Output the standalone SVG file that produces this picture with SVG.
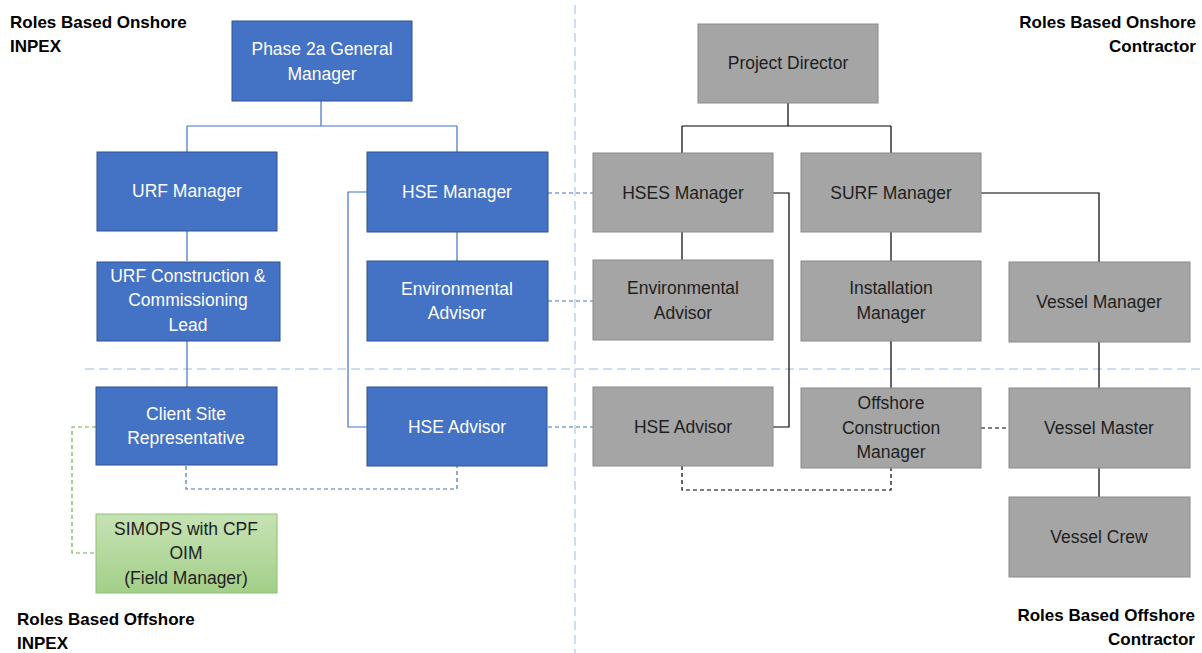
<svg xmlns="http://www.w3.org/2000/svg" width="1202" height="653" viewBox="0 0 1202 653">
  <defs>
    <linearGradient id="greenFill" x1="0" y1="0" x2="0" y2="1">
      <stop offset="0" stop-color="#c6e2b5"/>
      <stop offset="1" stop-color="#a3cf88"/>
    </linearGradient>
    <style>
      .blue { fill: #4472c4; stroke: #2f528f; stroke-width: 1; }
      .grey { fill: #a5a5a5; stroke: #8a8a8a; stroke-width: 1; }
      .green { fill: url(#greenFill); stroke: #8fbf73; stroke-width: 1; }
      .tw { font-family: "Liberation Sans", Arial, sans-serif; font-size: 17.5px; fill: #ffffff; text-anchor: middle; }
      .tk { font-family: "Liberation Sans", Arial, sans-serif; font-size: 17.5px; fill: #1e1e1e; text-anchor: middle; }
      .corner { font-family: "Liberation Sans", Arial, sans-serif; font-size: 17px; font-weight: bold; fill: #000000; }
      .divider { fill: none; stroke: #d0dcf2; stroke-width: 2; stroke-dasharray: 9 5; }
      .lb { fill: none; stroke: #4472c4; stroke-width: 1.2; }
      .lbd { fill: none; stroke: #4472c4; stroke-width: 1.2; stroke-dasharray: 4 3; }
      .lgd { fill: none; stroke: #70ad47; stroke-width: 1.2; stroke-dasharray: 4 3; }
      .lk { fill: none; stroke: #000000; stroke-width: 1.2; }
      .lkd { fill: none; stroke: #000000; stroke-width: 1.2; stroke-dasharray: 4 3; }
    </style>
  </defs>

  <rect width="1202" height="653" fill="#ffffff"/>

  <!-- quadrant dividers -->
  <g id="dividers">
    <line class="divider" x1="575" y1="5" x2="575" y2="653"/>
    <line class="divider" x1="85" y1="369" x2="1202" y2="369"/>
  </g>

  <!-- quadrant labels -->
  <g id="labels">
    <text class="corner" x="10" y="28">Roles Based Onshore</text>
    <text class="corner" x="10" y="52">INPEX</text>
    <text class="corner" x="1196" y="28" text-anchor="end">Roles Based Onshore</text>
    <text class="corner" x="1196" y="52" text-anchor="end">Contractor</text>
    <text class="corner" x="17" y="625">Roles Based Offshore</text>
    <text class="corner" x="17" y="649">INPEX</text>
    <text class="corner" x="1195" y="621" text-anchor="end">Roles Based Offshore</text>
    <text class="corner" x="1195" y="645" text-anchor="end">Contractor</text>
  </g>

  <!-- connectors -->
  <g id="connectors">
    <!-- INPEX reporting lines -->
    <path class="lb" d="M321 101 V126 M187 126 H457 M187 126 V152 M457 126 V152"/>
    <path class="lb" d="M187 231 V261"/>
    <path class="lb" d="M187 341 V387"/>
    <path class="lb" d="M457 232 V261"/>
    <path class="lb" d="M367 192 H348 V427 H367"/>
    <!-- INPEX dotted links -->
    <path class="lbd" d="M186 466 V489 H457 V466"/>
    <path class="lgd" d="M96 427 H72 V553 H96"/>
    <!-- INPEX to contractor interfaces -->
    <path class="lbd" d="M548 193 H593"/>
    <path class="lbd" d="M548 301 H593"/>
    <path class="lbd" d="M548 427 H593"/>
    <!-- contractor reporting lines -->
    <path class="lk" d="M788 103 V126 M682 126 H891 M682 126 V153 M891 126 V153"/>
    <path class="lk" d="M682 232 V260"/>
    <path class="lk" d="M773 193 H789 V427 H773"/>
    <path class="lk" d="M891 232 V261"/>
    <path class="lk" d="M981 193 H1099 V262"/>
    <path class="lk" d="M891 341 V388"/>
    <path class="lk" d="M1099 342 V388"/>
    <path class="lk" d="M1099 468 V497"/>
    <!-- contractor dotted links -->
    <path class="lkd" d="M981 428 H1009"/>
    <path class="lkd" d="M682 466 V490 H891 V468"/>
  </g>

  <!-- INPEX onshore -->
  <g id="phase2a-gm">
    <rect class="blue" x="232" y="21" width="180" height="80"/>
    <text class="tw" x="322" y="55">Phase 2a General</text>
    <text class="tw" x="322" y="80">Manager</text>
  </g>
  <g id="urf-manager">
    <rect class="blue" x="97" y="152" width="180" height="79"/>
    <text class="tw" x="187" y="197">URF Manager</text>
  </g>
  <g id="hse-manager">
    <rect class="blue" x="367" y="152" width="181" height="80"/>
    <text class="tw" x="457" y="198">HSE Manager</text>
  </g>
  <g id="urf-cc-lead">
    <rect class="blue" x="97" y="262" width="183" height="79"/>
    <text class="tw" x="188" y="282">URF Construction &amp;</text>
    <text class="tw" x="188" y="306">Commissioning</text>
    <text class="tw" x="188" y="331">Lead</text>
  </g>
  <g id="env-advisor-inpex">
    <rect class="blue" x="367" y="261" width="181" height="80"/>
    <text class="tw" x="457" y="295">Environmental</text>
    <text class="tw" x="457" y="319">Advisor</text>
  </g>

  <!-- INPEX offshore -->
  <g id="client-site-rep">
    <rect class="blue" x="96" y="387" width="181" height="78"/>
    <text class="tw" x="186" y="420">Client Site</text>
    <text class="tw" x="186" y="444">Representative</text>
  </g>
  <g id="hse-advisor-inpex">
    <rect class="blue" x="367" y="387" width="180" height="79"/>
    <text class="tw" x="457" y="433">HSE Advisor</text>
  </g>
  <g id="simops">
    <rect class="green" x="96" y="514" width="181" height="79"/>
    <text class="tk" x="186" y="535">SIMOPS with CPF</text>
    <text class="tk" x="186" y="559">OIM</text>
    <text class="tk" x="186" y="584">(Field Manager)</text>
  </g>

  <!-- contractor onshore -->
  <g id="project-director">
    <rect class="grey" x="698" y="24" width="180" height="79"/>
    <text class="tk" x="788" y="69">Project Director</text>
  </g>
  <g id="hses-manager">
    <rect class="grey" x="593" y="153" width="180" height="79"/>
    <text class="tk" x="683" y="199">HSES Manager</text>
  </g>
  <g id="surf-manager">
    <rect class="grey" x="801" y="153" width="180" height="79"/>
    <text class="tk" x="891" y="199">SURF Manager</text>
  </g>
  <g id="env-advisor-contractor">
    <rect class="grey" x="593" y="260" width="180" height="80"/>
    <text class="tk" x="683" y="294">Environmental</text>
    <text class="tk" x="683" y="319">Advisor</text>
  </g>
  <g id="installation-manager">
    <rect class="grey" x="801" y="261" width="180" height="80"/>
    <text class="tk" x="891" y="294">Installation</text>
    <text class="tk" x="891" y="319">Manager</text>
  </g>
  <g id="vessel-manager">
    <rect class="grey" x="1009" y="262" width="181" height="80"/>
    <text class="tk" x="1099" y="308">Vessel Manager</text>
  </g>

  <!-- contractor offshore -->
  <g id="hse-advisor-contractor">
    <rect class="grey" x="593" y="387" width="180" height="79"/>
    <text class="tk" x="683" y="433">HSE Advisor</text>
  </g>
  <g id="offshore-construction-manager">
    <rect class="grey" x="801" y="388" width="180" height="80"/>
    <text class="tk" x="891" y="409">Offshore</text>
    <text class="tk" x="891" y="434">Construction</text>
    <text class="tk" x="891" y="458">Manager</text>
  </g>
  <g id="vessel-master">
    <rect class="grey" x="1009" y="388" width="181" height="80"/>
    <text class="tk" x="1099" y="434">Vessel Master</text>
  </g>
  <g id="vessel-crew">
    <rect class="grey" x="1009" y="497" width="181" height="80"/>
    <text class="tk" x="1099" y="543">Vessel Crew</text>
  </g>
</svg>
